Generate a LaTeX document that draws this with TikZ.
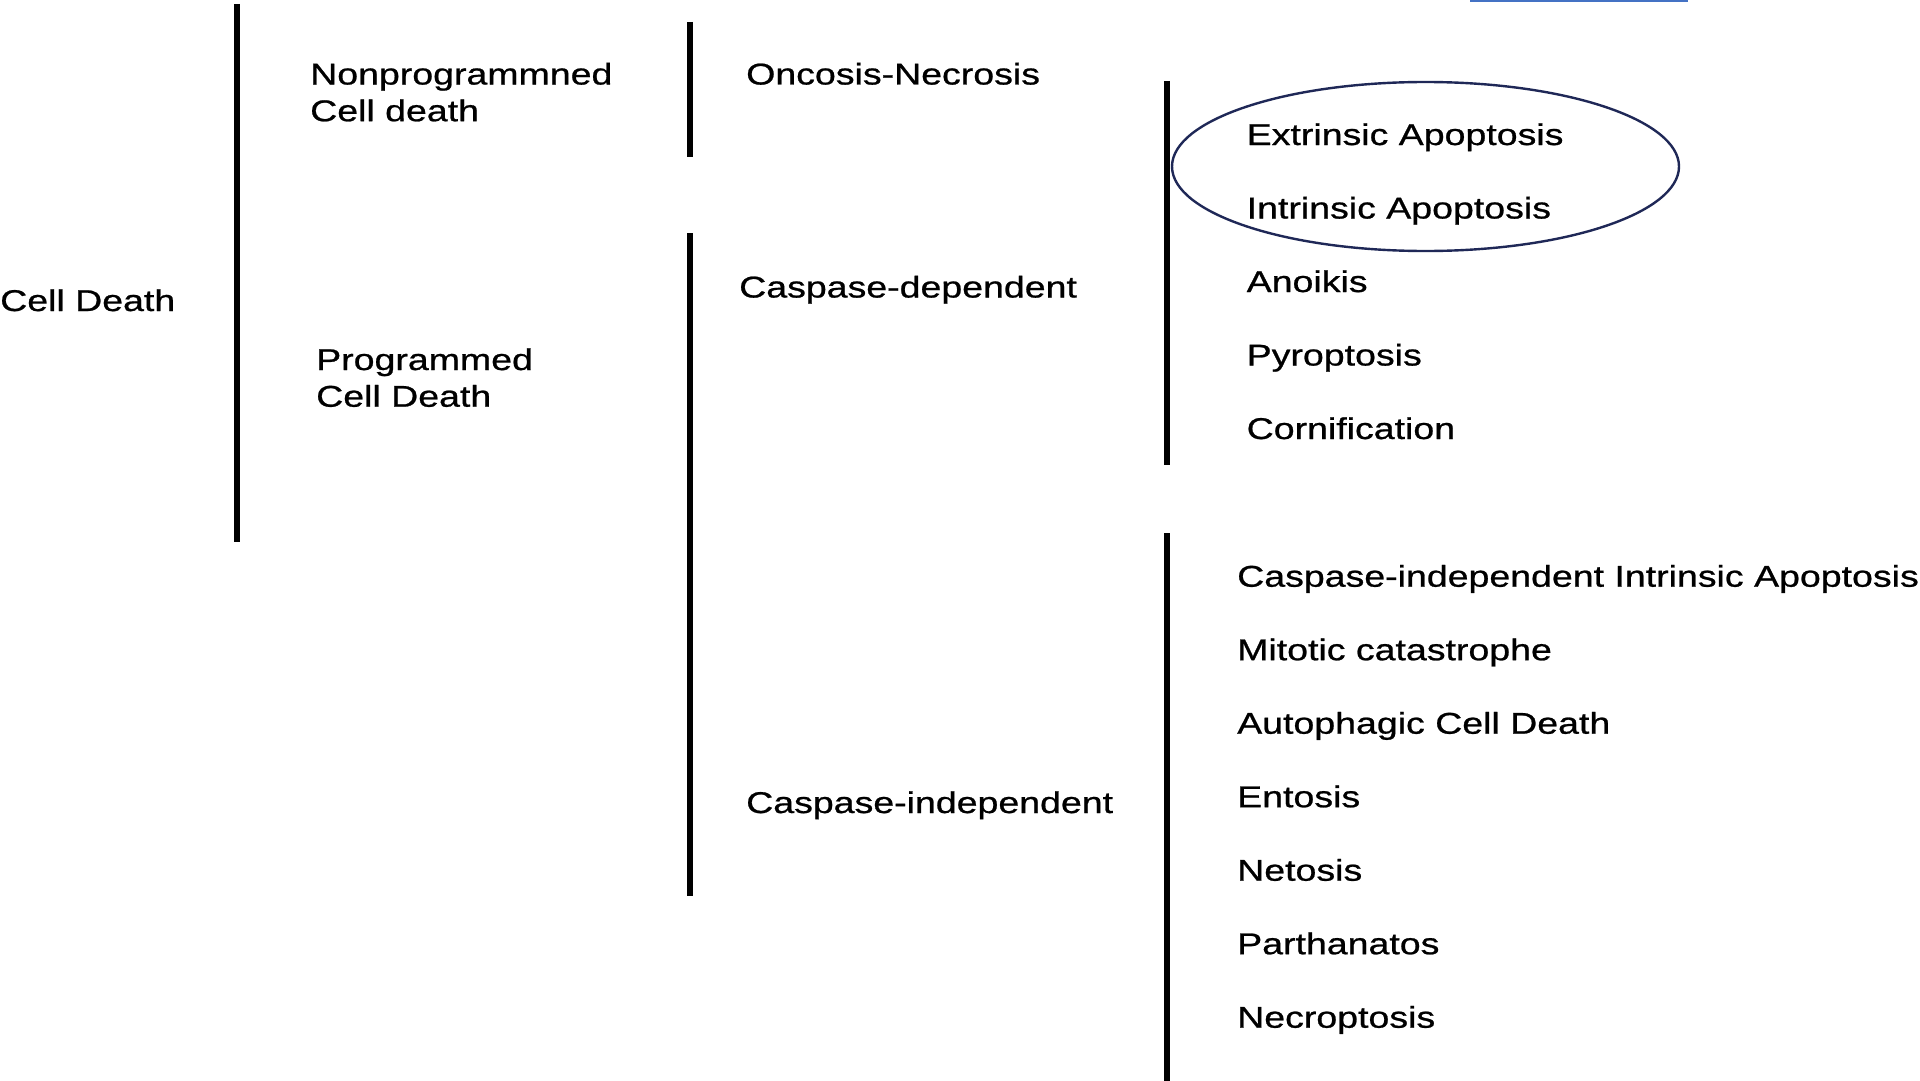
\documentclass[tikz,border=0pt]{standalone}
\usepackage{fontspec}
\setmainfont{Liberation Sans}[FakeStretch=1.25,FakeBold=0.8]
\definecolor{ellnavy}{HTML}{1F2857}
\definecolor{linkblue}{HTML}{4472C4}
\begin{document}
\begin{tikzpicture}[x=1pt,y=-1pt,
  lbl/.style={anchor=base west,inner sep=0pt,font=\fontsize{30}{36.7}\selectfont,align=left},
  bar/.style={line width=6.5pt,black},
  ring/.style={draw=ellnavy,line width=2.4pt}]
\useasboundingbox[fill=white] (0,0) rectangle (1920,1081);
% brackets
\draw[bar] (237,4) -- (237,542);
\draw[bar] (690,22) -- (690,157);
\draw[bar] (690,233) -- (690,896);
\draw[bar] (1167,81) -- (1167,465);
\draw[bar] (1167,533) -- (1167,1081);
% cut-off link underline at top
\fill[linkblue] (1470,0) rectangle (1688,2.5);
% labels
\node[lbl] (cd) at (0,311) {Cell Death};
\node[lbl] (npcd) at (310,121.2) {Nonprogrammned\\Cell death};
\node[lbl] (pcd) at (316,406.7) {Programmed\\Cell Death};
\node[lbl] (onc) at (746,84.5) {Oncosis-Necrosis};
\node[lbl] (cdep) at (739,297.5) {Caspase-dependent};
\node[lbl] (cind) at (746,813) {Caspase-independent};
\node[lbl] (ext) at (1246.5,145) {Extrinsic Apoptosis};
\node[lbl] (int) at (1246.5,218.5) {Intrinsic Apoptosis};
\node[lbl] (ano) at (1246.5,292) {Anoikis};
\node[lbl] (pyr) at (1246.5,365.5) {Pyroptosis};
\node[lbl] (cor) at (1246.5,439) {Cornification};
\node[lbl] (ciia) at (1237,586.7) {Caspase-independent Intrinsic Apoptosis};
\node[lbl] (mit) at (1237,660.2) {Mitotic catastrophe};
\node[lbl] (aut) at (1237,733.7) {Autophagic Cell Death};
\node[lbl] (ent) at (1237,807.2) {Entosis};
\node[lbl] (net) at (1237,880.7) {Netosis};
\node[lbl] (par) at (1237,954.2) {Parthanatos};
\node[lbl] (nec) at (1237,1027.7) {Necroptosis};
% ellipse around the apoptosis pair
\draw[ring] (1425.5,166.5) ellipse [x radius=253.5,y radius=84.5];
\end{tikzpicture}
\end{document}
